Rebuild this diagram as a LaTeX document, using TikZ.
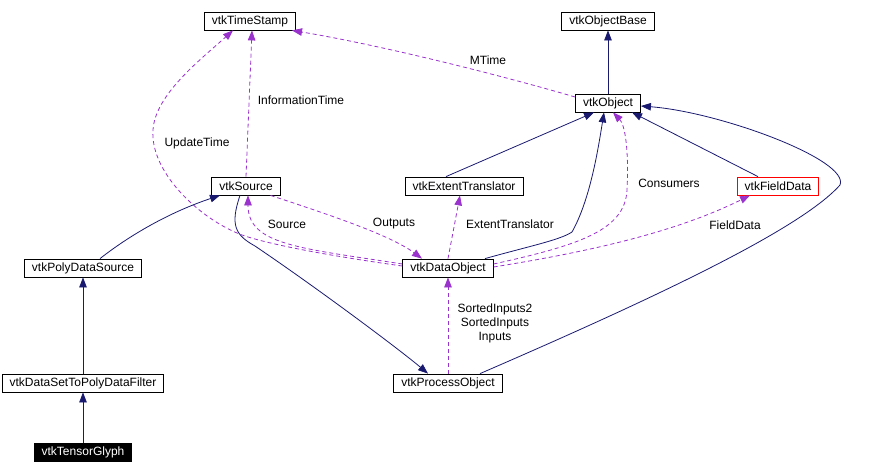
\documentclass[tikz,border=0pt]{standalone}
\usepackage{fontspec}
\setmainfont{Liberation Sans}
\usepackage{xcolor}
\definecolor{vtknavy}{HTML}{191970}
\definecolor{vtkpurple}{HTML}{9A32CD}
\usetikzlibrary{arrows.meta,calc}

\begin{document}
\begin{tikzpicture}[
  x=1pt, y=-1pt,
  cls/.style={draw, line width=0.8pt, minimum height=18pt, inner xsep=7.5pt, inner ysep=2pt,
              font=\fontsize{12}{14}\selectfont},
  inh/.style={-{Triangle[length=10pt,width=7.5pt]}, vtknavy, line width=0.8pt},
  use/.style={-{Triangle[length=10pt,width=7.5pt]}, vtkpurple, line width=0.8pt,
              dash pattern=on 4pt off 3pt},
  lbl/.style={font=\fontsize{12}{14}\selectfont, inner sep=1pt, align=center},
]
  \useasboundingbox (0,0) rectangle (880,474);

  % class boxes
  \node[cls] (ts)   at (250,21)  {vtkTimeStamp};
  \node[cls] (ob)   at (608,21)  {vtkObjectBase};
  \node[cls] (obj)  at (608,103) {vtkObject};
  \node[cls] (src)  at (246,186) {vtkSource};
  \node[cls] (ext)  at (464,186) {vtkExtentTranslator};
  \node[cls, draw=red] (fd) at (778,186) {vtkFieldData};
  \node[cls] (pds)  at (83,268)  {vtkPolyDataSource};
  \node[cls] (dobj) at (448,268) {vtkDataObject};
  \node[cls] (filt) at (83,383)  {vtkDataSetToPolyDataFilter};
  \node[cls] (proc) at (448,383) {vtkProcessObject};
  \node[cls, fill=black, text=white] (tg) at (83,452) {vtkTensorGlyph};

  % inheritance
  \draw[inh] (obj.north) -- (ob.south);
  \draw[inh] ([xshift=-18pt]ext.north) -- ([xshift=-14pt]obj.south);
  \draw[inh] ([xshift=-20pt]fd.north) -- ([xshift=24pt]obj.south);
  \draw[inh] ([xshift=37pt]dobj.north) .. controls (530,246) and (560,240) .. (572,232)
             .. controls (590,200) and (598,150) .. ([xshift=-4pt]obj.south);
  \draw[inh] ([xshift=32pt]proc.north) .. controls (650,300) and (800,230) .. (840,185)
             .. controls (850,160) and (720,112) .. ([yshift=-3pt]obj.east);
  \draw[inh] ([xshift=-6pt]src.south) .. controls (230,225) and (235,235) .. (255,246)
             .. controls (320,290) and (400,350) .. ([xshift=-20pt]proc.north);
  \draw[inh] ([xshift=17pt]pds.north) .. controls (130,235) and (170,212) .. ([xshift=-26pt]src.south);
  \draw[inh] (filt.north) -- (pds.south);
  \draw[inh] (tg.north) -- (filt.south);

  % usage
  \draw[use] ([yshift=6pt]obj.west) .. controls (500,75) and (380,45) .. ([xshift=-4pt]ts.south east);
  \draw[use] (src.north) -- ([xshift=2pt]ts.south);
  \draw[use] ([yshift=2pt]dobj.west) .. controls (330,256) and (260,243) .. (237,233)
             .. controls (195,215) and (150,170) .. (153,130)
             .. controls (155,95) and (200,60) .. ([xshift=-17pt]ts.south);
  \draw[use] ([yshift=4pt]dobj.west) .. controls (300,248) and (248,245) .. ([xshift=2pt]src.south);
  \draw[use] ([xshift=-10pt]src.south east) .. controls (330,215) and (390,235) .. ([xshift=-26pt]dobj.north);
  \draw[use] (dobj.north) -- ([xshift=-4pt]ext.south);
  \draw[use] ([yshift=4pt]dobj.east) .. controls (580,245) and (625,230) .. (627,190)
             .. controls (629,150) and (625,125) .. ([xshift=5pt]obj.south);
  \draw[use] ([yshift=1pt]dobj.east) .. controls (600,250) and (680,230) .. ([xshift=-28pt]fd.south);
  \draw[use] (proc.north) -- (dobj.south);

  % labels
  \node[lbl] (lmt) at (488,60)  {MTime};
  \node[lbl] (lit) at (301,100) {InformationTime};
  \node[lbl] (lut) at (197,143) {UpdateTime};
  \node[lbl] (lsr) at (287,224) {Source};
  \node[lbl] (lou) at (394,224) {Outputs};
  \node[lbl] (let) at (510,224) {ExtentTranslator};
  \node[lbl] (lco) at (669,183) {Consumers};
  \node[lbl] (lfd) at (735,225) {FieldData};
  \node[lbl] (lin) at (495,323) {SortedInputs2\\SortedInputs\\Inputs};
\end{tikzpicture}
\end{document}
